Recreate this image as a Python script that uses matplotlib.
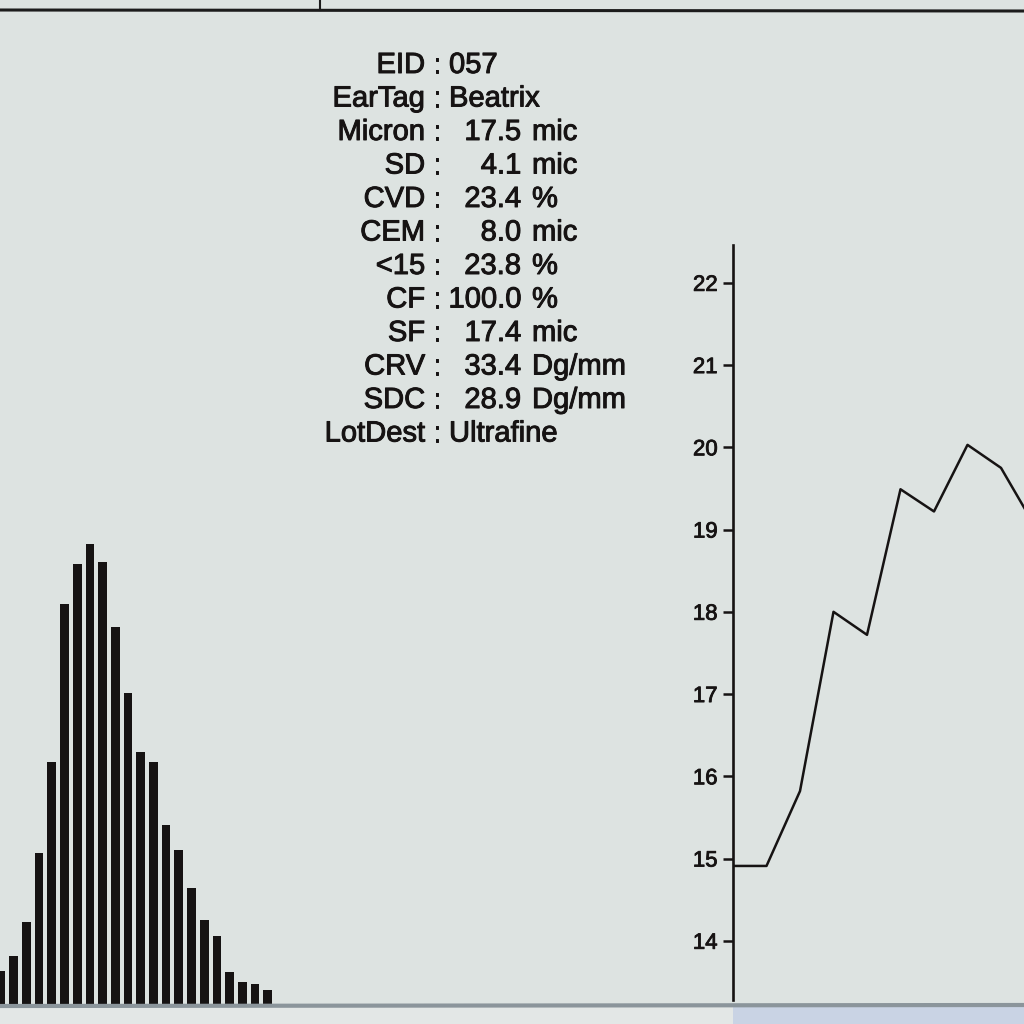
import matplotlib
matplotlib.use("Agg")
import matplotlib.pyplot as plt
import matplotlib.patheffects as pe
from matplotlib.lines import Line2D
from matplotlib.patches import Rectangle

plt.rcParams['font.family'] = ['Liberation Sans', 'DejaVu Sans']

# ---- data ------------------------------------------------------------------
stat_labels = ['EID', 'EarTag', 'Micron', 'SD', 'CVD', 'CEM', '<15', 'CF',
               'SF', 'CRV', 'SDC', 'LotDest']
stat_values = ['057', 'Beatrix', '17.5', '4.1', '23.4', '8.0', '23.8', '100.0',
               '17.4', '33.4', '28.9', 'Ultrafine']
stat_units = ['', '', 'mic', 'mic', '%', 'mic', '%', '%', 'mic', 'Dg/mm',
              'Dg/mm', '']

# histogram of fibre diameters (bar heights, arbitrary counts)
hist_counts = [36, 51, 85, 154, 245, 403, 443, 463, 445, 380, 314, 255, 245,
               182, 157, 119, 87, 71, 35, 25, 23, 17]

# micron profile along the staple
profile_pos = [0, 1, 2, 3, 4, 5, 6, 7, 8, 9]
profile_mic = [14.91, 14.91, 15.82, 18.0, 17.72, 19.49, 19.22, 20.03, 19.75, 19.05]
profile_ticks = [14, 15, 16, 17, 18, 19, 20, 21, 22]

BG = '#dde3e1'
INK = '#161313'
W = 1024.0
thick = [pe.withStroke(linewidth=0.7, foreground=INK)]


def fx(px):
    return px / W


def fy(py):
    return 1 - py / W


fig = plt.figure(figsize=(10.24, 10.24), dpi=100)
fig.patch.set_facecolor(BG)

# screen frame bits
fig.add_artist(Rectangle((0, 0), 1, fy(1005), transform=fig.transFigure,
                         facecolor='#e3e7e6', edgecolor='none', zorder=0))
fig.add_artist(Rectangle((fx(733), 0), 1 - fx(733), fy(1005),
                         transform=fig.transFigure, facecolor='#c9d3e4',
                         edgecolor='none', zorder=0))
fig.add_artist(Line2D([0, 1], [fy(1006), fy(1005)], transform=fig.transFigure,
                      color='#8b959b', lw=3, zorder=1))
fig.add_artist(Line2D([0, 1], [fy(10), fy(11)], transform=fig.transFigure,
                      color='#1c1c1c', lw=2.2, zorder=1))
fig.add_artist(Line2D([fx(320), fx(320)], [1, fy(10)], transform=fig.transFigure,
                      color='#1c1c1c', lw=1.5, zorder=1))

# ---- statistics block -----------------------------------------------------
fs = 21
for i, (lab, val, unit) in enumerate(zip(stat_labels, stat_values, stat_units)):
    base = 73 + 33.5 * i
    kw = dict(va='baseline', fontsize=fs, color=INK, path_effects=thick)
    fig.text(fx(425), fy(base), lab, ha='right', **kw)
    fig.text(fx(437), fy(base), ':', ha='center', **kw)
    if unit:
        fig.text(fx(521), fy(base), val, ha='right', **kw)
        fig.text(fx(532), fy(base), unit, ha='left', **kw)
    else:
        fig.text(fx(449), fy(base), val, ha='left', **kw)

# ---- histogram ------------------------------------------------------------
ax1 = fig.add_axes([0, fy(1007), fx(290), fy(507) - fy(1007)])
ax1.patch.set_alpha(0)
ax1.bar(range(len(hist_counts)), hist_counts, width=0.68, color=INK)
ax1.set_xlim(-1 / 12.7, 289 / 12.7)
ax1.set_ylim(0, 500)
ax1.axis('off')

# ---- micron profile -------------------------------------------------------
ax2 = fig.add_axes([fx(733), fy(1000), 1 - fx(733), fy(245) - fy(1000)])
ax2.patch.set_alpha(0)
ax2.plot(profile_pos, profile_mic, color=INK, lw=1.8)
ax2.set_xlim(0, (W - 733) / 33.5)
ax2.set_ylim(13.28, 22.46)
ax2.set_yticks(profile_ticks)
ax2.set_xticks([])
for s in ['top', 'right', 'bottom']:
    ax2.spines[s].set_visible(False)
ax2.spines['left'].set_linewidth(1.9)
ax2.spines['left'].set_color(INK)
ax2.tick_params(axis='y', direction='out', length=7, width=1.8, pad=4,
                labelsize=16, colors=INK)
for t in ax2.get_yticklabels():
    t.set_path_effects([pe.withStroke(linewidth=0.6, foreground=INK)])

fig.savefig('out.png', dpi=100, facecolor=fig.get_facecolor())
